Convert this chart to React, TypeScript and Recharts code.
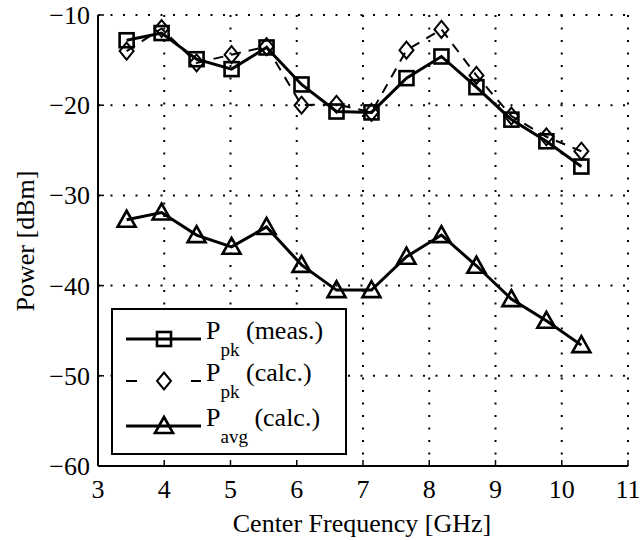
import { LineChart, Line, XAxis, YAxis, CartesianGrid, Legend, Label } from 'recharts';

// UWB band centers, 528 MHz apart
const freqGHz = [3.432, 3.96, 4.488, 5.016, 5.544, 6.072, 6.6, 7.128, 7.656, 8.184, 8.712, 9.24, 9.768, 10.296];
const peakMeas = [-12.8, -12.0, -14.9, -16.0, -13.6, -17.7, -20.7, -20.8, -17.0, -14.6, -18.0, -21.6, -24.0, -26.8];
const peakCalc = [-14.0, -11.5, -15.3, -14.4, -13.5, -20.0, -19.9, -20.8, -13.9, -11.6, -16.7, -21.2, -23.5, -25.1];
const avgCalc = [-32.7, -31.9, -34.4, -35.7, -33.5, -37.7, -40.5, -40.5, -36.8, -34.4, -37.8, -41.5, -43.9, -46.6];
const xTicks = [3, 4, 5, 6, 7, 8, 9, 10, 11];
const yTicks = [-60, -50, -40, -30, -20, -10];

const data = freqGHz.map((f, i) => ({
  f,
  meas: peakMeas[i],
  calc: peakCalc[i],
  avg: avgCalc[i],
}));

const FONT = '"Liberation Serif", "DejaVu Serif", serif';
const TICK = 6;

const fmt = (v: number) => (v < 0 ? '\u2212' + Math.abs(v) : String(v));

const Square = ({ cx, cy }: any) => (
  <rect x={cx - 7} y={cy - 7} width={14} height={14} fill="none" stroke="#000" strokeWidth={2.6} />
);
const Diamond = ({ cx, cy }: any) => (
  <polygon
    points={`${cx},${cy - 8.5} ${cx + 7},${cy} ${cx},${cy + 8.5} ${cx - 7},${cy}`}
    fill="none"
    stroke="#000"
    strokeWidth={2}
  />
);
const Triangle = ({ cx, cy }: any) => (
  <polygon
    points={`${cx},${cy - 9} ${cx + 9},${cy + 7} ${cx - 9},${cy + 7}`}
    fill="none"
    stroke="#000"
    strokeWidth={2.6}
  />
);

const dotOf = (Shape: any) => (p: any) =>
  p.cx == null ? <g key={p.index} /> : <Shape key={p.index} cx={p.cx} cy={p.cy} />;

const BottomTick = ({ x, y, payload }: any) => (
  <g>
    <line x1={x} x2={x} y1={y} y2={y - TICK} stroke="#000" strokeWidth={1.5} />
    <text x={x} y={y + 32} textAnchor="middle" fontFamily={FONT} fontSize={26} fill="#000">
      {payload.value}
    </text>
  </g>
);
const TopTick = ({ x, y }: any) => (
  <line x1={x} x2={x} y1={y} y2={y + TICK} stroke="#000" strokeWidth={1.5} />
);
const LeftTick = ({ x, y, payload }: any) => (
  <g>
    <line x1={x} x2={x + TICK} y1={y} y2={y} stroke="#000" strokeWidth={1.5} />
    <text x={x - 8} y={y + 9} textAnchor="end" fontFamily={FONT} fontSize={26} fill="#000">
      {fmt(payload.value)}
    </text>
  </g>
);
const RightTick = ({ x, y }: any) => (
  <line x1={x} x2={x - TICK} y1={y} y2={y} stroke="#000" strokeWidth={1.5} />
);

const rows = [
  { sub: 'pk', rest: ' (meas.)', dash: undefined, Shape: Square, width: 3, cy: 31 },
  { sub: 'pk', rest: ' (calc.)', dash: '11 54', Shape: Diamond, width: 2, cy: 73 },
  { sub: 'avg', rest: ' (calc.)', dash: undefined, Shape: Triangle, width: 3, cy: 118 },
];

const LegendBox = () => (
  <svg width={236} height={147} style={{ display: 'block' }}>
    <rect x={1} y={1} width={234} height={145} fill="#fff" stroke="#000" strokeWidth={2} />
    {rows.map((r, i) => (
      <g key={i}>
        <line x1={15} x2={90} y1={r.cy} y2={r.cy} stroke="#000" strokeWidth={r.width} strokeDasharray={r.dash} />
        <r.Shape cx={53} cy={r.cy} />
        <text x={95} y={r.cy} fontFamily={FONT} fontSize={26} fill="#000">
          P
          <tspan fontSize={19} dy={17}>
            {r.sub}
          </tspan>
          <tspan dy={-17}>{r.rest}</tspan>
        </text>
      </g>
    ))}
  </svg>
);

export default function App() {
  return (
    <div style={{ position: 'absolute', left: 0, top: 0, width: 641, height: 540, background: '#fff' }}>
      <LineChart width={641} height={540} data={data} margin={{ top: 15, right: 13, left: 0, bottom: 0 }}>
        <CartesianGrid stroke="#000" strokeWidth={2} strokeDasharray="2 10.5" />
        <XAxis
          dataKey="f"
          type="number"
          domain={[3, 11]}
          ticks={xTicks}
          height={74}
          tickSize={0}
          tickMargin={0}
          tick={BottomTick}
          axisLine={{ stroke: '#000', strokeWidth: 2 }}
          tickLine={false}
          interval={0}
        >
          <Label
            content={() => (
              <text x={362} y={532} textAnchor="middle" fontFamily={FONT} fontSize={26} fill="#000">
                Center Frequency [GHz]
              </text>
            )}
          />
        </XAxis>
        <XAxis
          xAxisId="top"
          orientation="top"
          type="number"
          domain={[3, 11]}
          ticks={xTicks}
          height={0}
          tickSize={0}
          tickMargin={0}
          tick={TopTick}
          axisLine={{ stroke: '#000', strokeWidth: 2 }}
          tickLine={false}
          interval={0}
        />
        <YAxis
          type="number"
          domain={[-60, -10]}
          ticks={yTicks}
          width={98}
          tickSize={0}
          tickMargin={0}
          tick={LeftTick}
          axisLine={{ stroke: '#000', strokeWidth: 2 }}
          tickLine={false}
          interval={0}
        >
          <Label
            content={() => (
              <text
                x={34}
                y={241}
                transform="rotate(-90, 34, 241)"
                textAnchor="middle"
                fontFamily={FONT}
                fontSize={26}
                fill="#000"
              >
                Power [dBm]
              </text>
            )}
          />
        </YAxis>
        <YAxis
          yAxisId="right"
          orientation="right"
          type="number"
          domain={[-60, -10]}
          ticks={yTicks}
          width={0}
          tickSize={0}
          tickMargin={0}
          tick={RightTick}
          axisLine={{ stroke: '#000', strokeWidth: 2 }}
          tickLine={false}
          interval={0}
        />
        <Line
          dataKey="meas"
          type="linear"
          stroke="#000"
          strokeWidth={3}
          dot={dotOf(Square)}
          activeDot={false}
          isAnimationActive={false}
        />
        <Line
          dataKey="calc"
          type="linear"
          stroke="#000"
          strokeWidth={2}
          strokeDasharray="10 8"
          dot={dotOf(Diamond)}
          activeDot={false}
          isAnimationActive={false}
        />
        <Line
          dataKey="avg"
          type="linear"
          stroke="#000"
          strokeWidth={3}
          dot={dotOf(Triangle)}
          activeDot={false}
          isAnimationActive={false}
        />
        <Legend
          layout="vertical"
          align="center"
          verticalAlign="middle"
          content={LegendBox}
          wrapperStyle={{ left: 111, top: 308, width: 236, height: 147 }}
        />
      </LineChart>
    </div>
  );
}
